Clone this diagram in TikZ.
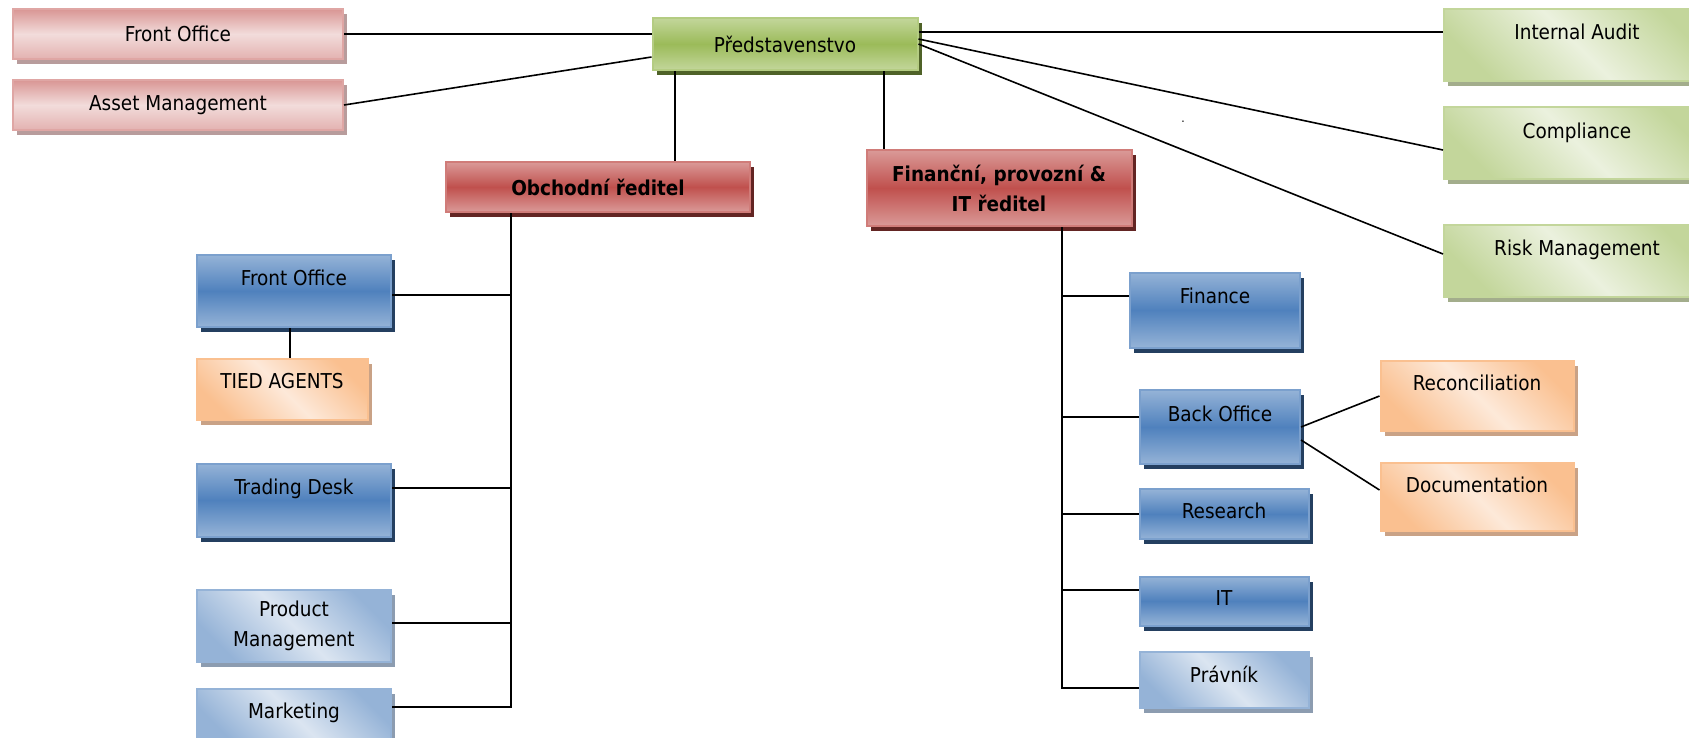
\documentclass[tikz,border=0pt]{standalone}
\usepackage{fontspec}
\setmainfont{DejaVu Sans Condensed}
\usetikzlibrary{shadows}

\definecolor{pinkA}{HTML}{D99694}
\definecolor{pinkB}{HTML}{F2DCDB}
\definecolor{pinkS}{HTML}{B89C9C}
\definecolor{redA}{HTML}{DA9A98}
\definecolor{redB}{HTML}{C0504D}
\definecolor{redS}{HTML}{632523}
\definecolor{grnA}{HTML}{C3D69B}
\definecolor{grnB}{HTML}{9BBB59}
\definecolor{grnS}{HTML}{4F6228}
\definecolor{lgrnA}{HTML}{C3D69B}
\definecolor{lgrnB}{HTML}{EBF1DE}
\definecolor{lgrnS}{HTML}{A3AD8C}
\definecolor{bluA}{HTML}{95B3D7}
\definecolor{bluB}{HTML}{4F81BD}
\definecolor{bluS}{HTML}{243F60}
\definecolor{lbluA}{HTML}{95B3D7}
\definecolor{lbluB}{HTML}{DBE5F1}
\definecolor{lbluS}{HTML}{8C9CB0}
\definecolor{orgA}{HTML}{FAC090}
\definecolor{orgB}{HTML}{FDE9D9}
\definecolor{orgS}{HTML}{C9A286}

\newcommand{\boxfont}{\fontsize{20.5}{30}\selectfont}

\begin{document}
\begin{tikzpicture}[
        x=1pt, y=-1pt,
        box/.style = {rectangle, line width=2pt, inner sep=2pt, align=center, font=\boxfont,
                      drop shadow={shadow xshift=4pt, shadow yshift=-5pt, opacity=1, fill=#1S}},
        pinkbox/.style = {box=pink, draw=pinkA!85!white, top color=pinkA, bottom color=pinkA!60!pinkB, middle color=pinkB},
        redbox/.style = {box=red, draw=redB!75!white, top color=redA, bottom color=redA, middle color=redB},
        boss/.style = {redbox, font=\boxfont\bfseries},
        greenbox/.style = {box=grn, draw=grnB!75!white, top color=grnA, bottom color=grnA, middle color=grnB},
        lgreenbox/.style = {box=lgrn, draw=lgrnA, top color=lgrnA, bottom color=lgrnA, middle color=lgrnB, shading angle=-45},
        bluebox/.style = {box=blu, draw=bluB!75!white, top color=bluA, bottom color=bluA, middle color=bluB},
        lbluebox/.style = {box=lblu, draw=lbluA, top color=lbluA, bottom color=lbluA, middle color=lbluB, shading angle=-45},
        orangebox/.style = {box=org, draw=orgA, top color=orgA, bottom color=orgA, middle color=orgB, shading angle=-45},
        link/.style = {line width=1.6pt}
        ]
        \useasboundingbox (0,0) rectangle (1689,737);

        % top row
        \node (FO1) at (178,34)   [pinkbox, minimum width=330pt, minimum height=50pt] {Front Office};
        \node (AM) at (178,105)   [pinkbox, minimum width=330pt, minimum height=50pt] {Asset Management};
        \node (P) at (785,44)     [greenbox, minimum width=265pt, minimum height=52pt] {Představenstvo};
        \node (IA) at (1577,45)   [lgreenbox, minimum width=266pt, minimum height=72pt, text depth=27pt] {Internal Audit};
        \node (C) at (1577,143)   [lgreenbox, minimum width=266pt, minimum height=72pt, text depth=25pt] {Compliance};
        \node (RM) at (1577,261)  [lgreenbox, minimum width=266pt, minimum height=72pt, text depth=27pt] {Risk Management};
        \node (dot) at (1183,122) [font=\fontsize{12}{14}\selectfont] {.};

        % directors
        \node (OR) at (598,187)   [boss, minimum width=304pt, minimum height=50pt] {Obchodní ředitel};
        \node (FR) at (999,188)   [boss, minimum width=265pt, minimum height=76pt] {Finanční, provozní \&\\IT ředitel};

        % left column
        \node (FO2) at (294,291)  [bluebox, minimum width=194pt, minimum height=72pt, text depth=27pt] {Front Office};
        \node (TA) at (282,389)   [orangebox, minimum width=171pt, minimum height=61pt, text depth=17pt] {TIED AGENTS};
        \node (TD) at (294,500)   [bluebox, minimum width=194pt, minimum height=73pt, text depth=27pt] {Trading Desk};
        \node (PM) at (294,626)   [lbluebox, minimum width=194pt, minimum height=72pt] {Product\\Management};
        \node (MK) at (294,716)   [lbluebox, minimum width=194pt, minimum height=54pt, text depth=11pt] {Marketing};

        % right column
        \node (F) at (1215,310)   [bluebox, minimum width=170pt, minimum height=75pt, text depth=29pt] {Finance};
        \node (BO) at (1220,427)  [bluebox, minimum width=160pt, minimum height=74pt, text depth=27pt] {Back Office};
        \node (R) at (1477,396)   [orangebox, minimum width=193pt, minimum height=70pt, text depth=27pt] {Reconciliation};
        \node (D) at (1477,497)   [orangebox, minimum width=193pt, minimum height=68pt, text depth=25pt] {Documentation};
        \node (RS) at (1224,514)  [bluebox, minimum width=169pt, minimum height=50pt, text depth=7pt] {Research};
        \node (IT) at (1224,601)  [bluebox, minimum width=169pt, minimum height=49pt, text depth=5pt] {IT};
        \node (PR) at (1224,680)  [lbluebox, minimum width=169pt, minimum height=56pt, text depth=11pt] {Právník};

        % board links
        \draw[link] (FO1.east) -- (FO1.east -| P.west);
        \draw[link] (AM.east) -- ([yshift=-13pt]P.west);
        \draw[link] ([yshift=12pt]P.east) -- ([yshift=12pt]P.east -| IA.west);
        \draw[link] ([yshift=5pt]P.east) -- ([yshift=-7pt]C.west);
        \draw[link] (P.east) -- ([yshift=7pt]RM.west);
        \draw[link] ([xshift=-110pt]P.south) -- ([xshift=-110pt]P.south |- OR.north);
        \draw[link] ([xshift=99pt]P.south) -- ([xshift=99pt]P.south |- FR.north);

        % left bus
        \draw[link] ([xshift=-87pt]OR.south) coordinate (ob) |- ([yshift=9pt]MK.east);
        \foreach \n/\s in {FO2/-4, TD/12, PM/3}
            \draw[link] ([yshift=\s pt]\n.east) -- ([yshift=\s pt]\n.east -| ob);
        \draw[link] ([xshift=-4pt]FO2.south) -- ([xshift=-4pt]FO2.south |- TA.north);

        % right bus
        \draw[link] ([xshift=63pt]FR.south) coordinate (fb) |- ([yshift=-8pt]PR.west);
        \foreach \n/\s in {F/14, BO/10, RS/0, IT/11}
            \draw[link] ([yshift=\s pt]\n.west) -- ([yshift=\s pt]\n.west -| fb);
        \draw[link] (BO.east) -- (R.west);
        \draw[link] ([yshift=-13pt]BO.east) -- ([yshift=7pt]D.west);
    \end{tikzpicture}
\end{document}
